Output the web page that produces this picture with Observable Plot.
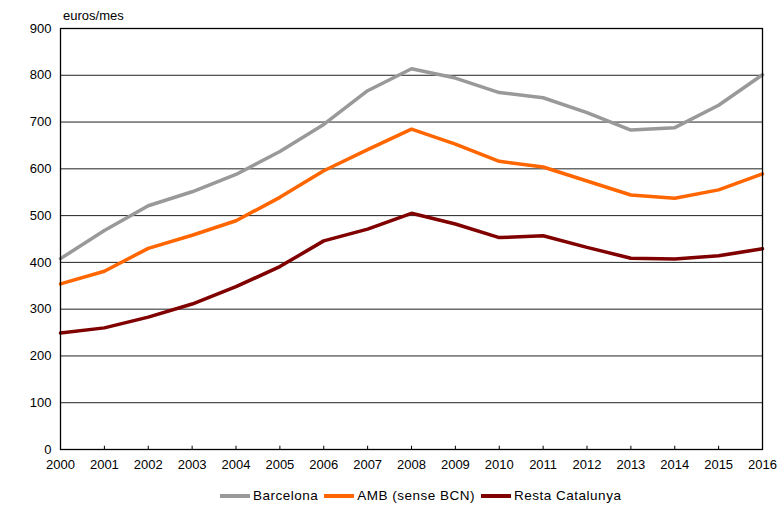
<!DOCTYPE html>
<html>
<head>
<meta charset="utf-8">
<script src="https://cdn.jsdelivr.net/npm/d3@7"></script>
<script src="https://cdn.jsdelivr.net/npm/@observablehq/plot@0.6"></script>
<style>
  body { margin: 0; background: #fff; font-family: "Liberation Sans", Arial, sans-serif; }
  #wrap { position: relative; width: 784px; height: 515px; }
  #unit { position: absolute; left: 63px; top: 8px; font-size: 13px; color: #000; }
  #legend { position: absolute; left: 220px; top: 488px; display: flex; align-items: center; font-size: 13.5px; letter-spacing: 0.5px; color: #000; }
  .item { display: flex; align-items: center; margin-right: 6px; }
  .sw { width: 30px; height: 4px; margin-right: 3px; }
</style>
</head>
<body>
<div id="wrap">
  <div id="unit">euros/mes</div>
  <div id="chart"></div>
  <div id="legend"></div>
</div>
<script>
const years = [2000,2001,2002,2003,2004,2005,2006,2007,2008,2009,2010,2011,2012,2013,2014,2015,2016];
const barcelona = [408,468,521,551,588,637,695,767,814,794,763,752,720,683,688,736,801];
const amb = [354,381,430,458,489,539,596,641,685,653,616,604,574,544,537,555,589];
const resta = [249,260,283,311,348,391,446,471,505,482,453,457,432,409,407,414,429];
const seriesNames = ["Barcelona", "AMB (sense BCN)", "Resta Catalunya"];
const seriesColors = ["#999999", "#ff6600", "#800000"];
const yTicks = [0,100,200,300,400,500,600,700,800,900];

const allSeries = [barcelona, amb, resta];
const data = [];
allSeries.forEach((vals, i) => vals.forEach((v, j) => data.push({year: years[j], value: v, series: seriesNames[i]})));

const chart = Plot.plot({
  width: 784,
  height: 481,
  marginLeft: 60,
  marginRight: 22,
  marginTop: 28,
  marginBottom: 32,
  style: {fontFamily: '"Liberation Sans", Arial, sans-serif', fontSize: "13px", color: "#000"},
  x: {domain: [2000, 2016], ticks: years, tickFormat: d => String(d), tickSize: 0, tickPadding: 10, label: null},
  y: {domain: [0, 900], ticks: yTicks, tickSize: 0, tickPadding: 9, label: null},
  color: {domain: seriesNames, range: seriesColors},
  marks: [
    Plot.ruleY(yTicks.filter(d => d > 0 && d < 900), {stroke: "#222", strokeWidth: 1}),
    Plot.ruleX(years, {x: d => d, y1: 0, y2: 7, stroke: "#000", strokeWidth: 1}),
    Plot.line(data, {x: "year", y: "value", stroke: "series", strokeWidth: 3.5, strokeLinejoin: "miter"}),
    Plot.frame({stroke: "#000", strokeWidth: 1.3})
  ]
});
document.getElementById("chart").appendChild(chart);

const legend = document.getElementById("legend");
seriesNames.forEach((n, i) => {
  const it = document.createElement("div");
  it.className = "item";
  const sw = document.createElement("div");
  sw.className = "sw";
  sw.style.background = seriesColors[i];
  const t = document.createElement("span");
  t.textContent = n;
  it.appendChild(sw); it.appendChild(t);
  legend.appendChild(it);
});
</script>
</body>
</html>
